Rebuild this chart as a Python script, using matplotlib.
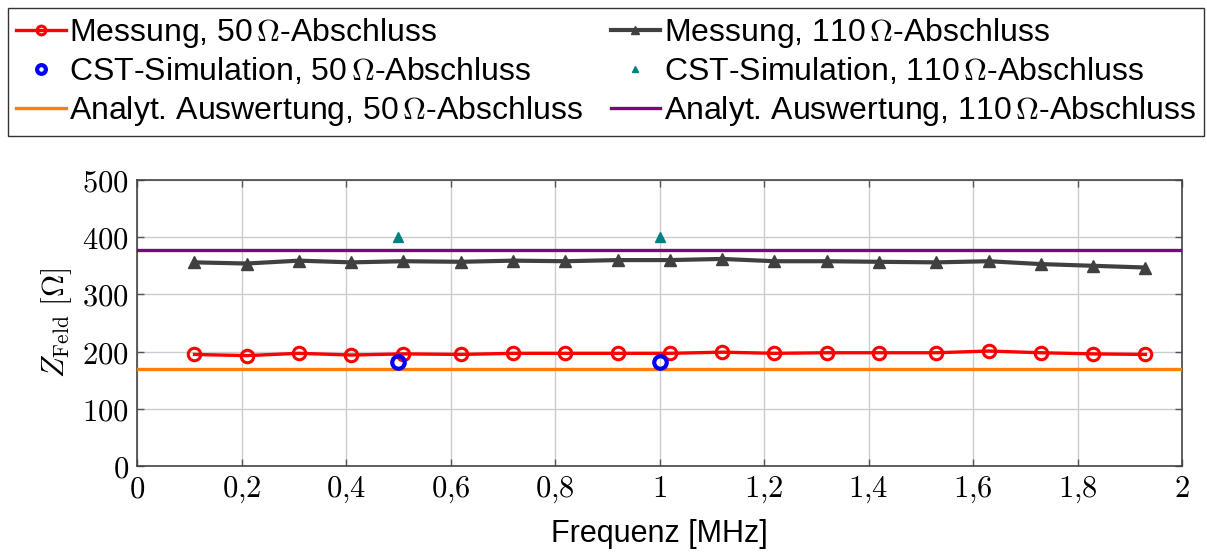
import numpy as np
import matplotlib
matplotlib.use("Agg")
from matplotlib import pyplot as plt
from matplotlib.ticker import FuncFormatter

plt.rcParams['mathtext.fontset'] = 'cm'
plt.rcParams['font.family'] = ['Liberation Sans', 'DejaVu Sans']

# measured frequencies [MHz]
freq = [0.11, 0.21, 0.31, 0.41, 0.51, 0.62, 0.72, 0.82, 0.92, 1.02,
        1.12, 1.22, 1.32, 1.42, 1.53, 1.63, 1.73, 1.83, 1.93]
mess_50 = [195, 193, 197, 194, 196, 195, 197, 197, 197, 197,
           199, 197, 198, 198, 198, 201, 198, 196, 195]
mess_110 = [356, 354, 359, 356, 358, 357, 359, 358, 360, 360,
            362, 358, 358, 357, 356, 358, 353, 350, 347]

cst_freq = [0.5, 1.0]
cst_50 = [181, 181]
cst_110 = [400, 400]

analyt_50 = 170
analyt_110 = 377

fig = plt.figure(figsize=(12.07, 5.55), dpi=100)
ax = fig.add_axes([137/1207, 1-466/555, (1182-137)/1207, (466-180)/555])

h1, = ax.plot(freq, mess_50, color="#ff0000", lw=2.4, marker="o", ms=9,
              mfc="none", mew=2.2, zorder=4)
h2, = ax.plot(cst_freq, cst_50, ls="none", color="#0000ff", marker="o", ms=9,
              mfc="none", mew=3, zorder=5)
h3 = ax.axhline(analyt_50, color="#ff7f0e", lw=2.4, zorder=3)
h4, = ax.plot(freq, mess_110, color="#404040", lw=3, marker="^", ms=9, zorder=4)
h5, = ax.plot(cst_freq, cst_110, ls="none", color="#008080", marker="^", ms=7, zorder=5)
h6 = ax.axhline(analyt_110, color="#800080", lw=2.4, zorder=3)

ax.set_xlim(0, 2)
ax.set_ylim(0, 500)
ax.set_xticks(np.arange(0, 2.01, 0.2))
ax.set_yticks(np.arange(0, 501, 100))

def xfmt(v, pos):
    s = ("%.1f" % v).rstrip("0").rstrip(".")
    return "$" + s.replace(".", "{,}") + "$"

ax.xaxis.set_major_formatter(FuncFormatter(xfmt))
ax.yaxis.set_major_formatter(FuncFormatter(lambda v, pos: "$%d$" % v))
ax.tick_params(direction="in", length=5, width=1, colors="#555555",
               labelcolor="black", labelsize=22, top=True, right=True, pad=6)
ax.grid(True, color="#cccccc", lw=1)
for sp in ax.spines.values():
    sp.set_color("#444444")
    sp.set_linewidth(1.2)

ax.set_xlabel("Frequenz [MHz]", fontsize=22, labelpad=10)
ax.set_ylabel(r"$Z_{\mathrm{Feld}}\ [\Omega]$", fontsize=22, labelpad=6)

labels = [r"Messung, 50$\,\Omega$-Abschluss",
          r"CST-Simulation, 50$\,\Omega$-Abschluss",
          r"Analyt. Auswertung, 50$\,\Omega$-Abschluss",
          r"Messung, 110$\,\Omega$-Abschluss",
          r"CST-Simulation, 110$\,\Omega$-Abschluss",
          r"Analyt. Auswertung, 110$\,\Omega$-Abschluss"]
leg = fig.legend([h1, h2, h3, h4, h5, h6], labels, ncol=2,
                 loc="upper left", bbox_to_anchor=(8/1207, 1-8/555),
                 borderaxespad=0, fontsize=23, handlelength=1.55,
                 handletextpad=0.12, labelspacing=0.2, borderpad=0.25,
                 columnspacing=0.85, markerscale=0.7, fancybox=False,
                 framealpha=1, edgecolor="#333333")
leg.get_frame().set_linewidth(1)

fig.savefig("out.png", dpi=100)
